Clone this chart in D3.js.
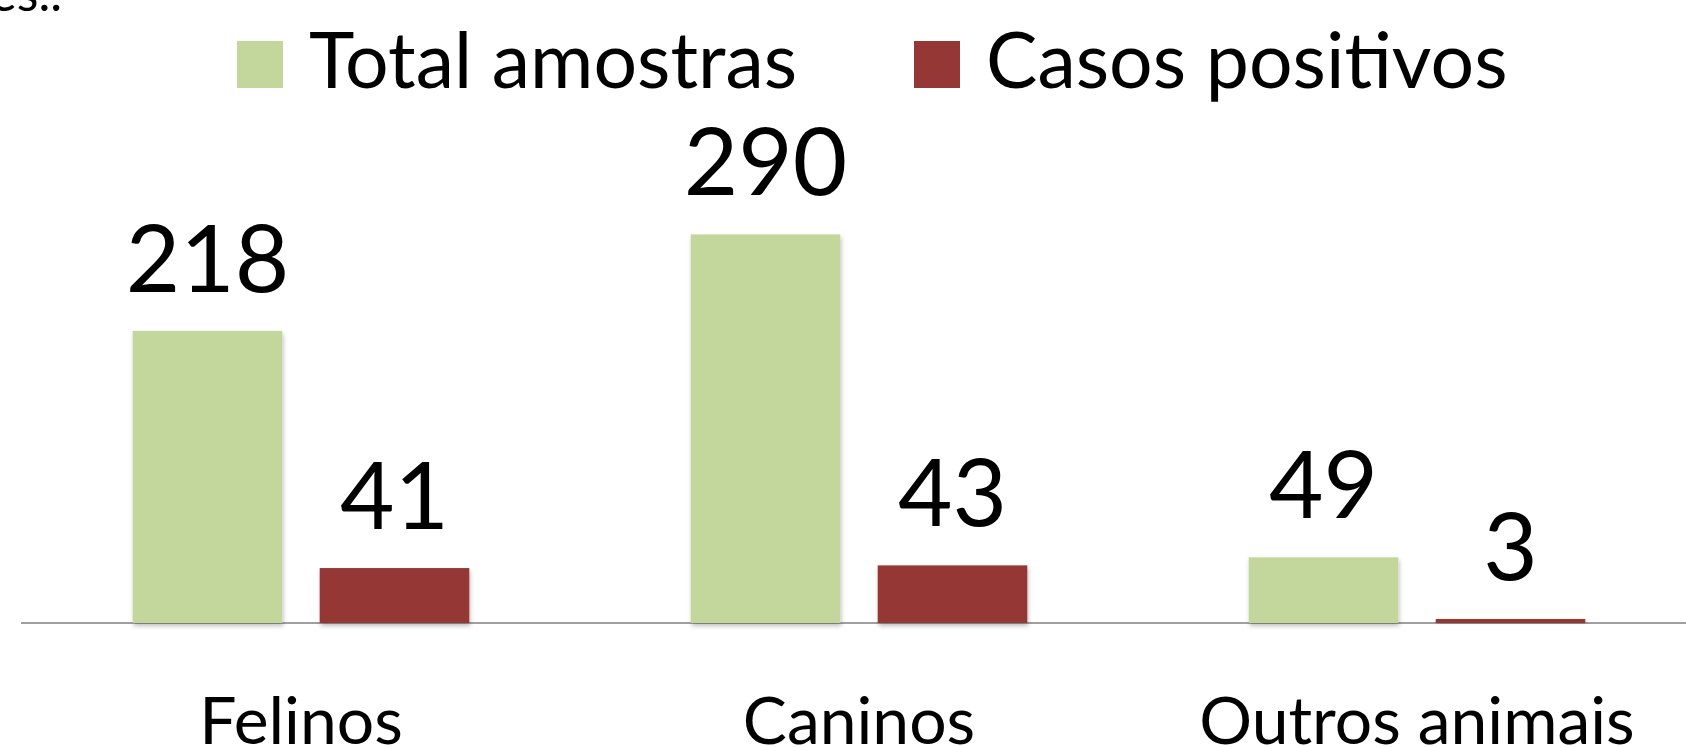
<!DOCTYPE html>
<html>
<head>
<meta charset="utf-8">
<script src="https://cdn.jsdelivr.net/npm/d3@7"></script>
<style>
  body { margin: 0; background: #fff; overflow: hidden; }
  text { font-family: Lato, "Open Sans", sans-serif; fill: #000; }
</style>
</head>
<body>
<div class="chartdiv"></div>
<script>
// data
const categories = ['Felinos', 'Caninos', 'Outros animais']
const seriesNames = ['Total amostras', 'Casos positivos']
const totalAmostras = [218, 290, 49]
const casosPositivos = [41, 43, 3]
const seriesColors = ['#c3d69b', '#953735']

const w = 1686, h = 747
const baseY = 623

let data = categories.map((c, i) => ({
    cat: c,
    vals: [
        { key: seriesNames[0], value: totalAmostras[i] },
        { key: seriesNames[1], value: casosPositivos[i] }
    ]
}))

const svg = d3.select('.chartdiv')
    .append('svg')
    .attr('width', w)
    .attr('height', h)

// soft shadow under the bars
const defs = svg.append('defs')
const filt = defs.append('filter').attr('id', 'shadow')
    .attr('x', '-10%').attr('y', '-10%').attr('width', '120%').attr('height', '130%')
filt.append('feDropShadow')
    .attr('dx', 1).attr('dy', 3).attr('stdDeviation', 2)
    .attr('flood-color', '#000').attr('flood-opacity', 0.25)

// scales
const x0 = d3.scaleBand()
    .domain(categories)
    .range([22, 1696])
    .padding(0)

const x1 = d3.scaleBand()
    .domain(seriesNames)
    .range([0, x0.bandwidth()])
    .paddingInner(0.2)
    .paddingOuter(0.592)

const yScale = d3.scaleLinear()
    .domain([0, 300])
    .range([baseY, 221])

const color = d3.scaleOrdinal().domain(seriesNames).range(seriesColors)

// partly cut-off heading text at the very top
svg.append('text')
    .attr('x', 62)
    .attr('y', 11)
    .attr('text-anchor', 'end')
    .style('font-size', '50px')
    .text('es..')

// baseline
const xAxis = d3.axisBottom(x0).tickSize(0).tickPadding(0)
let gx = svg.append('g')
    .attr('class', 'x axis')
    .attr('transform', 'translate(0,' + baseY + ')')
    .call(xAxis)
gx.select('.domain').attr('stroke', '#a0a0a0').attr('stroke-width', 2)
    .attr('d', 'M21,0H1686')
gx.selectAll('.tick text')
    .attr('y', 121)
    .attr('dy', 0)
    .style('font-size', '66px')
    .style('font-family', 'Lato, sans-serif')
    .attr('fill', '#000')

// bars
let groups = svg.append('g')
    .selectAll('g')
    .data(data)
    .enter()
    .append('g')
    .attr('transform', d => 'translate(' + x0(d.cat) + ',0)')

groups.selectAll('rect')
    .data(d => d.vals)
    .enter()
    .append('rect')
    .attr('x', d => x1(d.key))
    .attr('y', d => yScale(d.value))
    .attr('width', x1.bandwidth())
    .attr('height', d => baseY - yScale(d.value))
    .attr('fill', d => color(d.key))
    .attr('filter', 'url(#shadow)')

// value labels
groups.selectAll('text.vlabel')
    .data(d => d.vals)
    .enter()
    .append('text')
    .attr('class', 'vlabel')
    .attr('x', d => x1(d.key) + x1.bandwidth() / 2)
    .attr('y', d => yScale(d.value) - 39)
    .attr('text-anchor', 'middle')
    .style('font-size', '94px')
    .text(d => d.value)

// legend
const legendX = [237, 914]
let lg = svg.append('g')
    .selectAll('g')
    .data(seriesNames)
    .enter()
    .append('g')
    .attr('transform', (d, i) => 'translate(' + legendX[i] + ',0)')
lg.append('rect')
    .attr('x', 0)
    .attr('y', 41)
    .attr('width', 46)
    .attr('height', 47)
    .attr('fill', d => color(d))
lg.append('text')
    .attr('x', 72)
    .attr('y', 88)
    .style('font-size', '77px')
    .text(d => d)
</script>
</body>
</html>
